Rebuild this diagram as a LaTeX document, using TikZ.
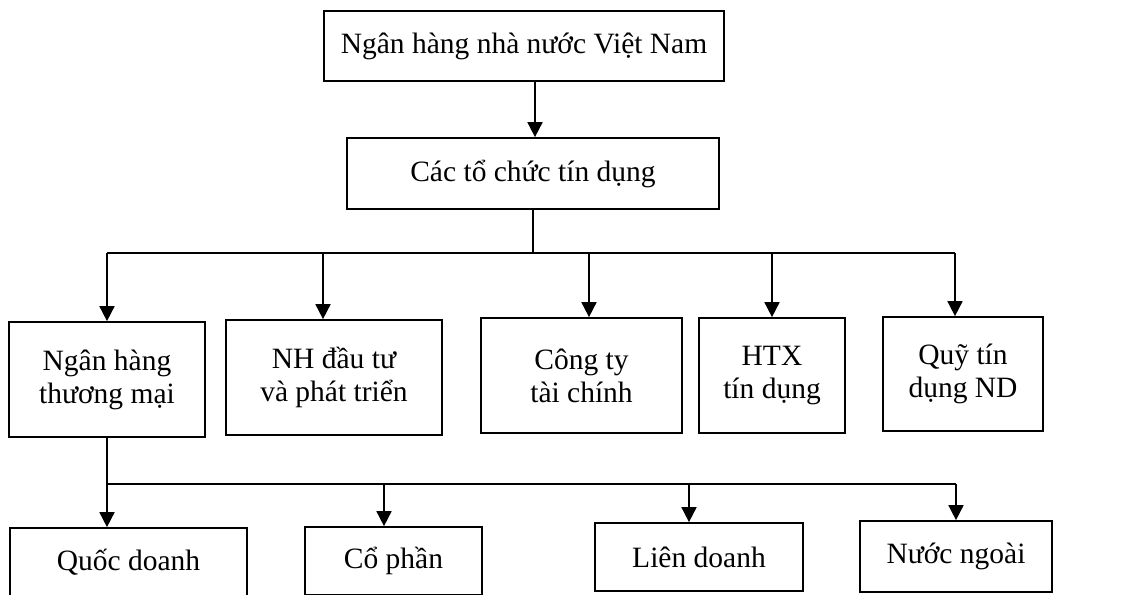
\documentclass[tikz,border=0pt]{standalone}
\usepackage{fontspec}
\setmainfont{Liberation Serif}
\usetikzlibrary{arrows.meta}
\newcommand{\boxfont}{\fontsize{29.5}{33}\selectfont}
\tikzset{
  box/.style={draw, line width=1.7pt, inner sep=0pt, align=center, font=\boxfont},
  ln/.style={line width=1.7pt},
  arr/.style={line width=1.7pt, -{Triangle[width=15pt,length=15pt]}}
}
\begin{document}
\begin{tikzpicture}[x=1pt,y=-1pt]
\useasboundingbox (0,0) rectangle (1123,594);
\clip (0,0) rectangle (1123,594);
\fill[white] (0,0) rectangle (1123,594);
% level 1
\node[box, minimum width=400pt, minimum height=70pt] (nhnn) at (524,46) {Ngân hàng nhà nước Việt Nam};
\node[box, minimum width=372pt, minimum height=71pt] (tctd) at (533,173.5) {Các tổ chức tín dụng};
% level 3
\node[box, minimum width=196pt, minimum height=115pt] (nhtm) at (107,379.5) {Ngân hàng\\thương mại};
\node[box, minimum width=216pt, minimum height=115pt] (nhdt) at (334,377.5) {NH đầu tư\\và phát triển};
\node[box, minimum width=201pt, minimum height=115pt] (cty) at (581.5,375.5) {Công ty\\tài chính};
\node[box, minimum width=146pt, minimum height=115pt] (htx) at (772,375.5) {HTX\\tín dụng};
\node[box, minimum width=160pt, minimum height=114pt] (quy) at (963,374) {Quỹ tín\\dụng ND};
% level 4
\node[box, minimum width=237pt, minimum height=68pt] (qd) at (128.5,562) {Quốc doanh};
\node[box, minimum width=177pt, minimum height=68pt] (cp) at (393.5,561) {Cổ phần};
\node[box, minimum width=208pt, minimum height=68pt] (ld) at (699,557) {Liên doanh};
\node[box, minimum width=192pt, minimum height=71pt] (nn) at (956,556.5) {Nước ngoài};
% connector coordinates
\coordinate (t0) at (535,0);
\coordinate (b1) at (0,253);
\coordinate (a1) at (107,253);
\coordinate (a2) at (323,253);
\coordinate (a3) at (589,253);
\coordinate (a4) at (772,253);
\coordinate (a5) at (955,253);
\coordinate (b2) at (0,484);
\coordinate (c1) at (107,484);
\coordinate (c2) at (384,484);
\coordinate (c3) at (689,484);
\coordinate (c4) at (956,484);
% connectors
\draw[arr] (t0 |- nhnn.south) -- (t0 |- tctd.north);
\draw[ln] (tctd.south) -- (tctd.south |- b1);
\draw[ln] (a1) -- (a5);
\draw[arr] (a1) -- (a1 |- nhtm.north);
\draw[arr] (a2) -- (a2 |- nhdt.north);
\draw[arr] (a3) -- (a3 |- cty.north);
\draw[arr] (a4) -- (a4 |- htx.north);
\draw[arr] (a5) -- (a5 |- quy.north);
\draw[ln] (nhtm.south) -- (nhtm.south |- b2);
\draw[ln] (c1) -- (c4);
\draw[arr] (c1) -- (c1 |- qd.north);
\draw[arr] (c2) -- (c2 |- cp.north);
\draw[arr] (c3) -- (c3 |- ld.north);
\draw[arr] (c4) -- (c4 |- nn.north);
\end{tikzpicture}
\end{document}
